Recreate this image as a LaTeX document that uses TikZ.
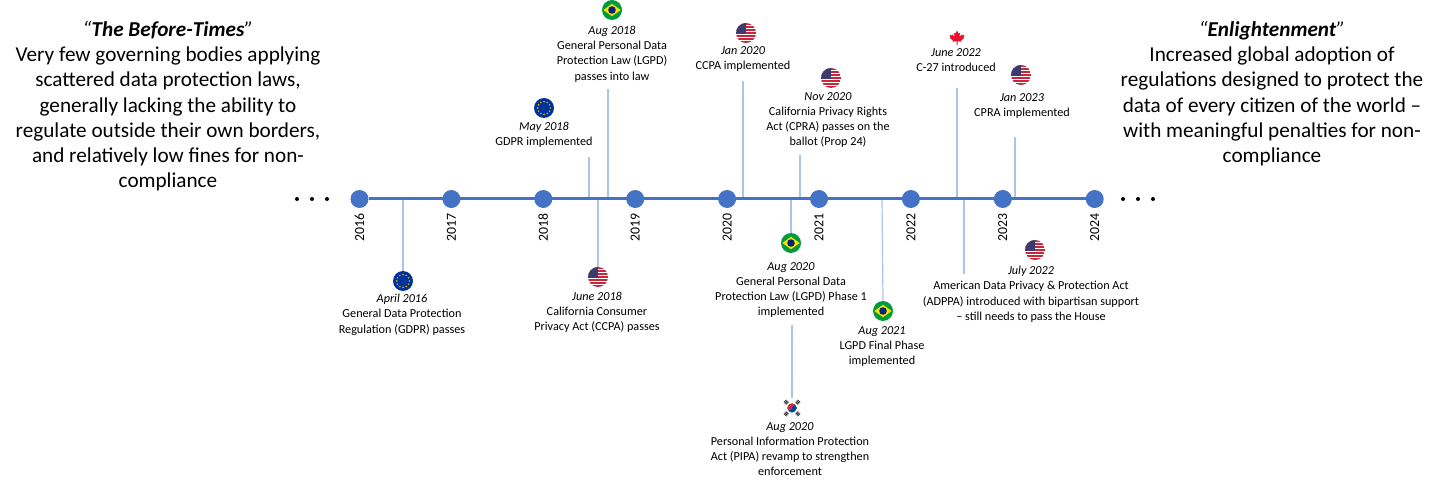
\documentclass[tikz,border=0pt]{standalone}
\usepackage{fontspec}
\setmainfont{Carlito}
\usetikzlibrary{backgrounds}

\definecolor{tlblue}{HTML}{4472C4}
\definecolor{stemblue}{HTML}{ADC3E8}
\definecolor{usred}{HTML}{C8263A}
\definecolor{usblue}{HTML}{3C3B6E}
\definecolor{eublue}{HTML}{003399}
\definecolor{euyellow}{HTML}{FFCC00}
\definecolor{brgreen}{HTML}{009C3B}
\definecolor{bryellow}{HTML}{FFDF00}
\definecolor{brblue}{HTML}{002776}
\definecolor{krred}{HTML}{CD2E3A}
\definecolor{krblue}{HTML}{0047A0}
\definecolor{cared}{HTML}{E8112D}

\begin{document}
\begin{tikzpicture}[x=1pt,y=-1pt,
	year/.style={circle,fill=tlblue,minimum size=18pt,inner sep=0pt},
	yearlbl/.style={rotate=90,inner sep=0pt,font=\fontsize{13.8}{15}\selectfont},
	event/.style={align=center,inner sep=0pt,anchor=north,font=\fontsize{12.2}{15.2}\selectfont},
	era/.style={align=center,inner sep=0pt,anchor=north,font=\fontsize{21.2}{25.2}\selectfont},
	flag/.style={circle,minimum size=20pt,inner sep=0pt},
	stem/.style={draw=stemblue,line width=1.2pt},
	tline/.style={draw=tlblue,line width=3pt},
	euflag/.pic={
		\fill[eublue] (0,0) circle (10);
		\foreach \a in {0,30,...,330} \fill[euyellow] (\a:6.3) circle (0.8);
	},
	usflag/.pic={
		\begin{scope}[yscale=-1]
		\clip (0,0) circle (10);
		\fill[white] (-10,-10) rectangle (10,10);
		\foreach \s in {0,2,...,12} \fill[usred] (-10,10-\s*1.54) rectangle (10,8.46-\s*1.54);
		\fill[usblue] (-10,10) rectangle (0,-0.8);
		\end{scope}
	},
	brflag/.pic={
		\fill[brgreen] (0,0) circle (10);
		\fill[bryellow] (-8.6,0) -- (0,-6.2) -- (8.6,0) -- (0,6.2) -- cycle;
		\fill[brblue] (0,0) circle (3.8);
	},
	krflag/.pic={
		\begin{scope}[yscale=-1]
		\fill[krblue] (0,0) circle (4.6);
		\fill[krred] (-4.6,0) arc (180:0:4.6) -- cycle;
		\fill[krred] (-2.3,0) circle (2.3);
		\fill[krblue] (2.3,0) circle (2.3);
		\foreach \a in {45,135,225,315}
			\foreach \d in {6.8,8.2,9.6}
				\draw[black,line width=0.8pt,rotate=\a] (\d,-1.8) -- (\d,1.8);
		\end{scope}
	},
	caflag/.pic={
		\begin{scope}[yscale=-1]
		\fill[cared] (0,7.5) -- (1.5,4.5) -- (3,5.2) -- (2.5,1.5) -- (5,3.5) -- (5.5,2.5) -- (7.5,3)
			-- (6.5,0.5) -- (7.2,0) -- (4,-2.5) -- (4.5,-3.8) -- (0.5,-3.2) -- (0.5,-7) -- (-0.5,-7)
			-- (-0.5,-3.2) -- (-4.5,-3.8) -- (-4,-2.5) -- (-7.2,0) -- (-6.5,0.5) -- (-7.5,3)
			-- (-5.5,2.5) -- (-5,3.5) -- (-2.5,1.5) -- (-3,5.2) -- (-1.5,4.5) -- cycle;
		\end{scope}
	}]
	\useasboundingbox (0,0) rectangle (1441,489);

	% years on the line
	\foreach \yr [count=\i from 0] in {2016,...,2024} {
		\node[year] (y\yr) at (359.5+91.9*\i,199) {};
		\node[yearlbl] (l\yr) at (359.5+91.9*\i,228) {\yr};
	}
	\foreach \x in {297,312,327,1123,1138,1153} \fill (\x,199) circle (2);

	% the two eras
	\node[era] (before) at (168,21) {\textit{“\textbf{The Before-Times}”}\\Very few governing bodies applying\\scattered data protection laws,\\generally lacking the ability to\\regulate outside their own borders,\\and relatively low fines for non-\\compliance};
	\node[era] (after) at (1272,21) {\textit{“\textbf{Enlightenment}”}\\Increased global adoption of\\regulations designed to protect the\\data of every citizen of the world –\\with meaningful penalties for non-\\compliance};

	% events below the line
	\coordinate (t_gdpr) at (403,199);
	\node[flag] (f_gdpr) at (403,281) {}; \pic at (f_gdpr) {euflag};
	\node[event] (gdpr) at (402,294) {\textit{April 2016}\\General Data Protection\\Regulation (GDPR) passes};

	\coordinate (t_ccpa) at (598,199);
	\node[flag] (f_ccpa) at (598,277) {}; \pic at (f_ccpa) {usflag};
	\node[event] (ccpa) at (597,292) {\textit{June 2018}\\California Consumer\\Privacy Act (CCPA) passes};

	\coordinate (t_lgpd1) at (791,199);
	\node[flag] (f_lgpd1) at (791,243) {}; \pic at (f_lgpd1) {brflag};
	\node[event] (lgpd1) at (791,262) {\textit{Aug 2020}\\General Personal Data\\Protection Law (LGPD) Phase 1\\implemented};

	\coordinate (s_pipa) at (792,325);
	\node[flag] (f_pipa) at (792,408) {}; \pic at (f_pipa) {krflag};
	\node[event] (pipa) at (790,422) {\textit{Aug 2020}\\Personal Information Protection\\Act (PIPA) revamp to strengthen\\enforcement};

	\coordinate (t_lgpd2) at (882,199);
	\node[flag] (f_lgpd2) at (883,311) {}; \pic at (f_lgpd2) {brflag};
	\node[event] (lgpd2) at (882,326) {\textit{Aug 2021}\\LGPD Final Phase\\implemented};

	\coordinate (t_adppa) at (964,199);
	\coordinate (s_adppa) at (964,274);
	\node[flag] (f_adppa) at (1035,250) {}; \pic at (f_adppa) {usflag};
	\node[event] (adppa) at (1031,266) {\textit{July 2022}\\American Data Privacy \& Protection Act\\(ADPPA) introduced with bipartisan support\\– still needs to pass the House};

	% events above the line
	\coordinate (t_gdpr2) at (589,199);
	\coordinate (s_gdpr2) at (589,157);
	\node[flag] (f_gdpr2) at (544,108) {}; \pic at (f_gdpr2) {euflag};
	\node[event] (gdpr2) at (544,122) {\textit{May 2018}\\GDPR implemented};

	\coordinate (t_lgpd0) at (608,199);
	\coordinate (s_lgpd0) at (608,89);
	\node[flag] (f_lgpd0) at (612,10) {}; \pic at (f_lgpd0) {brflag};
	\node[event] (lgpd0) at (612,26) {\textit{Aug 2018}\\General Personal Data\\Protection Law (LGPD)\\passes into law};

	\coordinate (t_ccpa2) at (743,199);
	\coordinate (s_ccpa2) at (743,81);
	\node[flag] (f_ccpa2) at (746,33) {}; \pic at (f_ccpa2) {usflag};
	\node[event] (ccpa2) at (743,46) {\textit{Jan 2020}\\CCPA implemented};

	\coordinate (t_cpra) at (800,199);
	\coordinate (s_cpra) at (800,155);
	\node[flag] (f_cpra) at (831,78) {}; \pic at (f_cpra) {usflag};
	\node[event] (cpra) at (828,92) {\textit{Nov 2020}\\California Privacy Rights\\Act (CPRA) passes on the\\ballot (Prop 24)};

	\coordinate (t_c27) at (957,199);
	\coordinate (s_c27) at (957,88);
	\node[flag] (f_c27) at (957,38) {}; \pic at (f_c27) {caflag};
	\node[event] (c27) at (956,48) {\textit{June 2022}\\C-27 introduced};

	\coordinate (t_cpra2) at (1015,199);
	\coordinate (s_cpra2) at (1015,137);
	\node[flag] (f_cpra2) at (1021,75) {}; \pic at (f_cpra2) {usflag};
	\node[event] (cpra2) at (1022,93) {\textit{Jan 2023}\\CPRA implemented};

	\begin{scope}[on background layer]
		\draw[stem] (t_gdpr) -- (f_gdpr.north);
		\draw[stem] (t_ccpa) -- (f_ccpa.north);
		\draw[stem] (t_lgpd1) -- (f_lgpd1.north);
		\draw[stem] (s_pipa) -- (f_pipa.north);
		\draw[stem] (t_lgpd2) -- (f_lgpd2.north);
		\draw[stem] (t_adppa) -- (s_adppa);
		\draw[stem] (t_gdpr2) -- (s_gdpr2);
		\draw[stem] (t_lgpd0) -- (s_lgpd0);
		\draw[stem] (t_ccpa2) -- (s_ccpa2);
		\draw[stem] (t_cpra) -- (s_cpra);
		\draw[stem] (t_c27) -- (s_c27);
		\draw[stem] (t_cpra2) -- (s_cpra2);
		\draw[tline] (y2016) -- (y2024);
	\end{scope}
\end{tikzpicture}
\end{document}
